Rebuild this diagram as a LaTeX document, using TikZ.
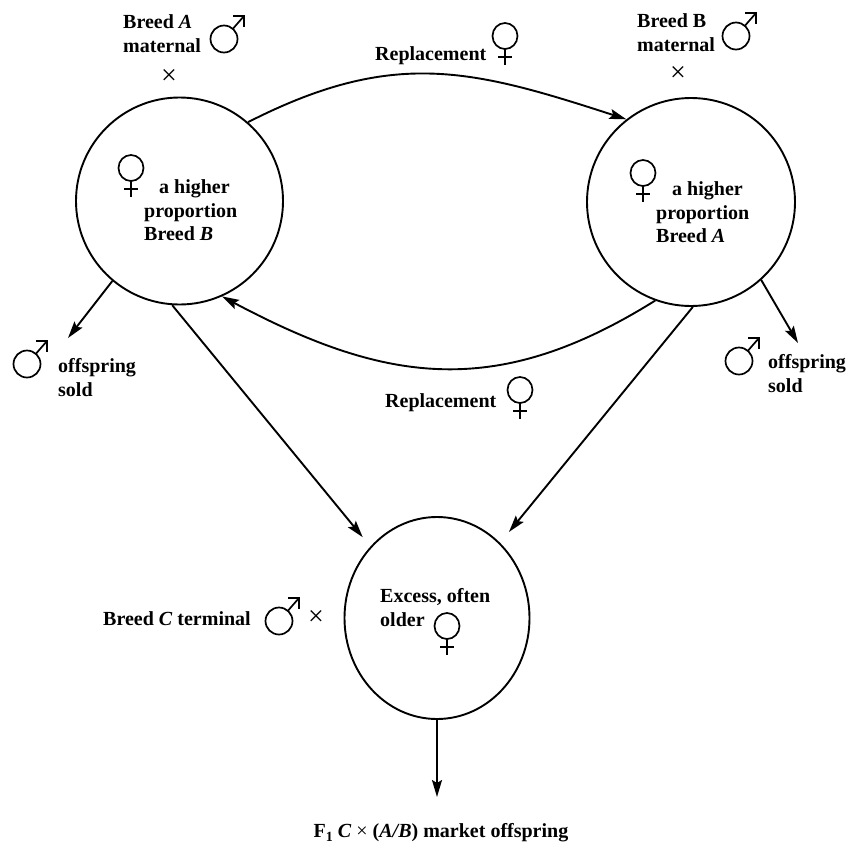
\documentclass[tikz,border=0pt]{standalone}
\usepackage{fontspec}
\setmainfont{Liberation Serif}
\usetikzlibrary{arrows.meta,shapes.geometric}

% the cross sign
\newcommand{\crs}{{\mdseries\fontsize{28}{28}\selectfont ×}}

\tikzset{
  pen/.style={line width=1.9pt},
  sexpen/.style={line width=1.7pt},
  flow/.style={pen, -{Stealth[length=17pt,width=10pt,inset=3pt]}},
  herd/.style={circle, draw, pen, inner sep=0pt},
  lbl/.style={font=\bfseries\fontsize{20}{23.5}\selectfont, inner sep=0pt, align=left},
  sym/.style={inner sep=0pt},
  % Venus sign, origin at the centre of its ring
  female/.pic={
    \draw[sexpen] (0,0) ellipse (12.5 and 13);
    \draw[sexpen] (0,-13) -- (0,-29);
    \draw[sexpen] (-7,-21) -- (7,-21);
  },
  % Mars sign, origin at the centre of its ring
  male/.pic={
    \draw[sexpen] (0,0) circle (13.5);
    \draw[sexpen] (49:13.5) -- (20,23);
    \draw[sexpen] (9,23) -- (20,23) -- (20,12);
  },
}

\begin{document}
\begin{tikzpicture}[x=1pt,y=1pt]
\useasboundingbox (0,0) rectangle (862,-844);

% the three flocks
\node[herd, minimum size=207pt] (L) at (179.5,-201) {};
\node[herd, minimum size=208pt] (R) at (691,-202) {};
\node[ellipse, draw, pen, inner sep=0pt, minimum width=185pt, minimum height=202pt] (C) at (437,-618) {};

% sires used on each flock
\node[lbl, anchor=north west] (sireA) at (123,-14.5) {Breed \textit{A}\\maternal};
\pic (sireAm) at (224,-39) {male};
\node[sym] (sireAx) at (169,-77) {\crs};
\node[lbl, anchor=north west] (sireB) at (637,-13.5) {Breed B\\maternal};
\pic (sireBm) at (736,-36) {male};
\node[sym] (sireBx) at (678,-74) {\crs};

% flock contents
\node[lbl, anchor=north west] (txtL) at (144,-179.5) {\hspace*{15pt}a higher\\proportion\\Breed \textit{B}};
\pic (femL) at (131,-168) {female};
\node[lbl, anchor=north west] (txtR) at (656,-181.5) {\hspace*{16pt}a higher\\proportion\\Breed \textit{A}};
\pic (femR) at (643,-173) {female};
\node[lbl, anchor=north west] (txtC) at (380,-588.5) {Excess, often\\older};
\pic (femC) at (447,-626) {female};

% male offspring
\node[lbl, anchor=north west] (soldLt) at (58,-358.5) {offspring\\sold};
\pic (soldLm) at (27,-364) {male};
\node[lbl, anchor=north west] (soldRt) at (768,-354.5) {offspring\\sold};
\pic (soldRm) at (739,-361) {male};

% replacement females
\node[lbl, anchor=base west] (repTop) at (375,-60) {Replacement};
\pic (repTopf) at (505,-36) {female};
\node[lbl, anchor=base west] (repBot) at (385,-407) {Replacement};
\pic (repBotf) at (520,-390) {female};

% terminal sire
\node[lbl, anchor=base west] (sireC) at (103,-625) {Breed \textit{C} terminal};
\pic (sireCm) at (279,-621) {male};
\node[sym] (sireCx) at (316,-618) {\crs};

% market offspring
\node[lbl, anchor=base] (mkt) at (441,-837) {F\raisebox{-0.22em}{\fontsize{14}{14}\selectfont 1} \textit{C} {\mdseries ×} (\textit{A/B}) market offspring};

% flows
\coordinate (soldL) at (68,-338);
\coordinate (soldR) at (798,-343);
\coordinate (market) at (437,-797);
\draw[flow] (L.49) to[out=27,in=162,looseness=1.1] (R.128);
\draw[flow] (R.250) to[out=212,in=-28,looseness=1.1] (L.294);
\draw[flow] (L.230) -- (soldL);
\draw[flow] (R.312) -- (soldR);
\draw[flow, shorten >=12pt] (L.266) -- (C.133);
\draw[flow, shorten >=14pt] (R.271) -- (C.50);
\draw[flow] (C.south) -- (market);
\end{tikzpicture}
\end{document}
